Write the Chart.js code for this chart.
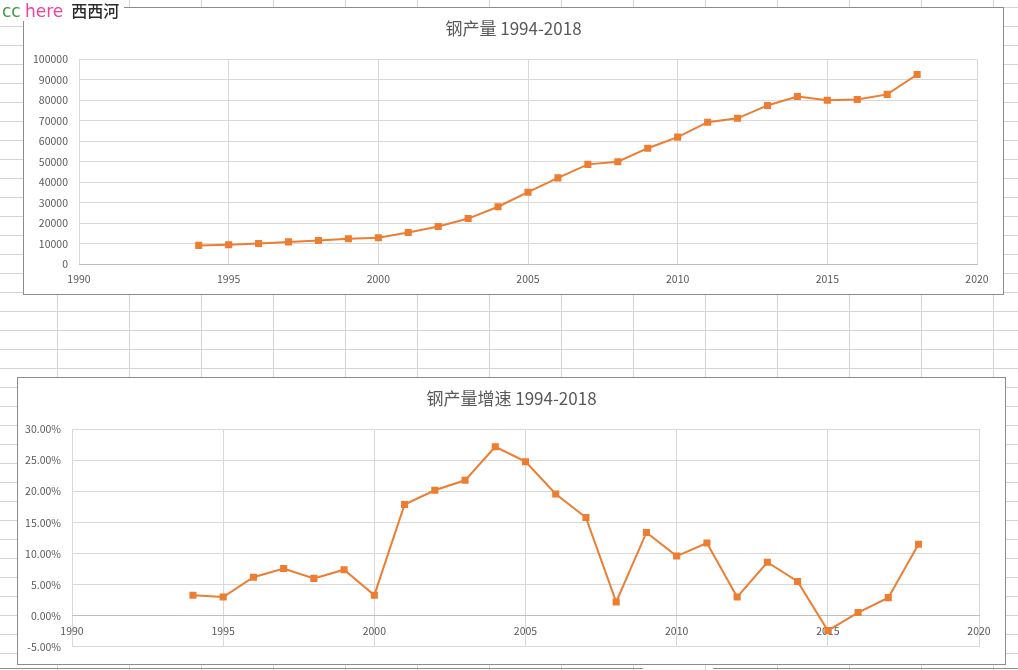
<!DOCTYPE html>
<html lang="zh-CN">
<head>
<meta charset="utf-8">
<title>钢产量 1994-2018</title>
<script src="https://cdn.jsdelivr.net/npm/chart.js@4.4.1/dist/chart.umd.min.js"></script>
<style>
  html, body { margin: 0; padding: 0; }
  body {
    width: 1018px; height: 670px; overflow: hidden; position: relative; background-color: #fff;
    background-image: linear-gradient(to right, #d4d4d4 1px, transparent 1px),
                      linear-gradient(to bottom, #d4d4d4 1px, transparent 1px);
    background-size: 72px 19px;
    background-position: 57px 7px;
  }
  .box { position: absolute; border: 1px solid #8c8c8c; background: #fff; }
  .box .inner { position: relative; width: 100%; height: 100%; }
  #box1 { left: 23px; top: 7px; width: 979px; height: 286px; }
  #box2 { left: 17px; top: 377px; width: 987px; height: 286px; }
  #mark {
    position: absolute; left: 0; top: 0; width: 124px; height: 21px; background: #fff; z-index: 5;
    font-size: 17px; line-height: 21px; white-space: nowrap; padding-left: 2px; box-sizing: border-box;
  }
  #mark .cc { color: #3c9a3c; font-family: "DejaVu Sans", sans-serif; }
  #mark .here { color: #f0409a; font-family: "DejaVu Sans", sans-serif; }
  #mark .zh { color: #2b2b2b; font-family: "Noto Sans CJK SC", sans-serif; font-size: 16px; font-weight: 500; margin-left: 8px; }
  .edge { position: absolute; top: 668px; height: 1px; background: #8c8c8c; }
</style>
</head>
<body>
<div id="mark"><span class="cc">cc</span> <span class="here">here</span><span class="zh">西西河</span></div>
<div class="box" id="box1"><div class="inner"><canvas id="grafVyroba"></canvas></div></div>
<div class="box" id="box2"><div class="inner"><canvas id="grafRust"></canvas></div></div>
<div class="edge" style="left:0;width:643px"></div>
<div class="edge" style="left:713px;width:305px"></div>

<script>
// data
const roky = [1994, 1995, 1996, 1997, 1998, 1999, 2000, 2001, 2002, 2003, 2004, 2005, 2006,
              2007, 2008, 2009, 2010, 2011, 2012, 2013, 2014, 2015, 2016, 2017, 2018];
// steel output (10k t)
const vyroba = [9100, 9400, 10000, 10800, 11500, 12300, 12800, 15400, 18300, 22200, 28000, 35100, 42100,
                48700, 50000, 56600, 62000, 69300, 71200, 77500, 81900, 80000, 80400, 82900, 92600];
// growth rate, percent
const rust = [3.3, 3.0, 6.2, 7.6, 6.0, 7.4, 3.3, 17.9, 20.2, 21.8, 27.2, 24.8, 19.6,
              15.8, 2.2, 13.4, 9.6, 11.7, 3.0, 8.6, 5.5, -2.4, 0.5, 2.9, 11.5];
const nadpisVyroba = "钢产量 1994-2018";
const nadpisRust = "钢产量增速 1994-2018";

const barva = "#ED7D31";
const mrizka = "#d9d9d9";
const pismo = "Noto Sans CJK SC";
const sedaText = "#595959";

function body(hodnoty) {
    return roky.map(function(r, i) { return { x: r, y: hodnoty[i] }; });
}

function radaDat(hodnoty) {
    return {
        data: body(hodnoty), showLine: true, borderColor: barva, backgroundColor: barva,
        borderWidth: 2, pointStyle: "rect", pointRadius: 5, pointBorderWidth: 0
    };
}

function nadpis(text) {
    return { display: true, text: text, color: sedaText, font: { family: pismo, size: 17, weight: "normal" },
             padding: { top: 10, bottom: 21 } };
}

function osaX(extra) {
    const o = {
        type: "linear", min: 1990, max: 2020,
        grid: { color: mrizka, drawTicks: false },
        border: { color: "#bfbfbf" },
        ticks: { stepSize: 5, padding: 9, color: sedaText, font: { family: pismo, size: 10.5 },
                 callback: function(v) { return String(v); } }
    };
    return Object.assign(o, extra);
}

// prazdna osa vpravo jen drzi misto, nadpis pak zustane uprostred boxu
function prazdnaOsa(sirka) {
    return {
        position: "right", display: true,
        grid: { drawOnChartArea: false, drawTicks: false }, border: { display: false },
        ticks: { display: false },
        afterFit: function(s) { s.width = sirka; }
    };
}

Chart.defaults.animation = false;

new Chart(document.getElementById("grafVyroba"), {
    type: "scatter",
    data: { datasets: [radaDat(vyroba)] },
    options: {
        responsive: true, maintainAspectRatio: false,
        layout: { padding: 0 },
        plugins: { legend: { display: false }, tooltip: { enabled: false }, title: nadpis(nadpisVyroba) },
        scales: {
            x: osaX({ afterFit: function(s) { s.height = 30; } }),
            y: {
                min: 0, max: 100000,
                grid: { color: mrizka, drawTicks: false },
                border: { display: false },
                afterFit: function(s) { s.width = 55; },
                ticks: { stepSize: 10000, padding: 11, color: sedaText, font: { family: pismo, size: 10.5 },
                         callback: function(v) { return String(v); } }
            },
            y2: prazdnaOsa(26)
        }
    }
});

new Chart(document.getElementById("grafRust"), {
    type: "scatter",
    data: { datasets: [radaDat(rust)] },
    options: {
        responsive: true, maintainAspectRatio: false,
        layout: { padding: { left: 0, right: 0, top: 0, bottom: 14 } },
        plugins: { legend: { display: false }, tooltip: { enabled: false }, title: nadpis(nadpisRust) },
        scales: {
            x: osaX({ position: { y: 0 } }),
            y: {
                min: -5, max: 30,
                grid: { color: mrizka, drawTicks: false },
                border: { display: false },
                afterFit: function(s) { s.width = 54; },
                ticks: { stepSize: 5, padding: 11, color: sedaText, font: { family: pismo, size: 10.5 },
                         callback: function(v) { return v.toFixed(2) + "%"; } }
            },
            y2: prazdnaOsa(26)
        }
    }
});
</script>
</body>
</html>
